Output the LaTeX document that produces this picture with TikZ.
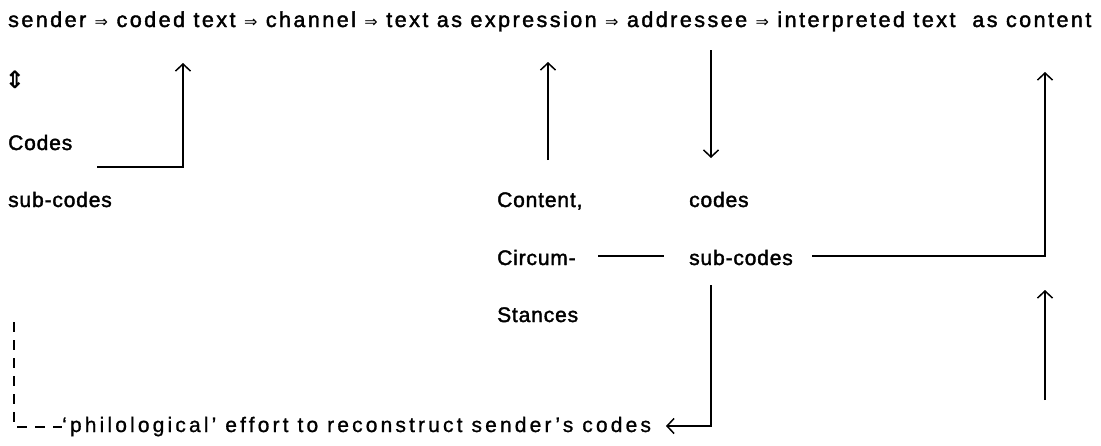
\documentclass[tikz,border=0pt]{standalone}
\usepackage{fontspec}
\setmainfont{Liberation Sans}
\newfontfamily\labfont[LetterSpace=4,FakeBold=1.8]{Liberation Sans}
\newfontfamily\headfont[LetterSpace=11.5,FakeBold=1.8]{Liberation Sans}
\newfontfamily\notefont[LetterSpace=15,FakeBold=1]{Liberation Sans}
\newfontfamily\symfont{DejaVu Sans}
\usetikzlibrary{arrows.meta}

% small double arrow used between the stages of the chain
\newcommand{\stagearrow}{{\symfont\fontsize{16}{16}\selectfont ⇒}}

\begin{document}
\begin{tikzpicture}[x=1pt,y=-1pt,
  lab/.style={font=\labfont\fontsize{21}{21}\selectfont, inner sep=0pt, anchor=base west},
  head/.style={font=\headfont\fontsize{21.5}{21.5}\selectfont, inner sep=0pt, anchor=base west},
  note/.style={font=\notefont\fontsize{21}{21}\selectfont, inner sep=0pt, anchor=base west},
  link/.style={line width=1.5pt},
  arr/.style={link, -{Straight Barb[length=7pt,width=15pt,line width=1.5pt]}},
  dashlink/.style={line width=1.5pt, dash pattern=on 10pt off 8pt},
]
\useasboundingbox (0,0) rectangle (1101,445);
\fill[white] (0,0) rectangle (1101,445);

% the communication chain
\node[head] (flow) at (8,27) {sender \stagearrow{} coded text \stagearrow{} channel \stagearrow{} text as expression \stagearrow{} addressee \stagearrow{} interpreted text\ \ as content};

% left column
\node[inner sep=0pt, font=\symfont\bfseries\fontsize{24}{24}\selectfont] (updown) at (15,80) {⇕};
\node[lab] (codesL) at (8,150) {Codes};
\node[lab] (subL) at (8,207) {sub-codes};

% middle column
\node[lab] (content) at (497,207) {Content,};
\node[lab] (circum) at (497,265) {Circum-};
\node[lab] (stances) at (497,322) {Stances};

% addressee's codes
\node[lab] (codesR) at (689,207) {codes};
\node[lab] (subR) at (689,265) {sub-codes};

% bottom note
\node[note] (philo) at (62,432) {‘philological’ effort to reconstruct sender’s codes};

% corner points and free ends of the connectors
\coordinate (cA0) at (97,167);
\coordinate (cA1) at (183,167);
\coordinate (cA2) at (183,63);
\coordinate (eB0) at (548,160);
\coordinate (eB1) at (548,62);
\coordinate (dC0) at (711,50);
\coordinate (dC1) at (711,158);
\coordinate (hD0) at (598,256);
\coordinate (hD1) at (664,256);
\coordinate (hE0) at (812,256);
\coordinate (hE1) at (1045,256);
\coordinate (hE2) at (1045,72);
\coordinate (vF0) at (711,285);
\coordinate (vF1) at (711,426);
\coordinate (vF2) at (666,426);
\coordinate (uG0) at (1045,400);
\coordinate (uG1) at (1045,290);
\coordinate (qH0) at (14,322);
\coordinate (qH1) at (14,427);

% connectors
\draw[arr] (cA0) -- (cA1) -- (cA2);
\draw[arr] (eB0) -- (eB1);
\draw[arr] (dC0) -- (dC1);
\draw[link] (hD0) -- (hD1);
\draw[arr] (hE0) -- (hE1) -- (hE2);
\draw[arr] (vF0) -- (vF1) -- (vF2);
\draw[arr] (uG0) -- (uG1);
\draw[dashlink] (qH0) -- (qH1) -- (philo.west |- qH1);
\end{tikzpicture}
\end{document}
